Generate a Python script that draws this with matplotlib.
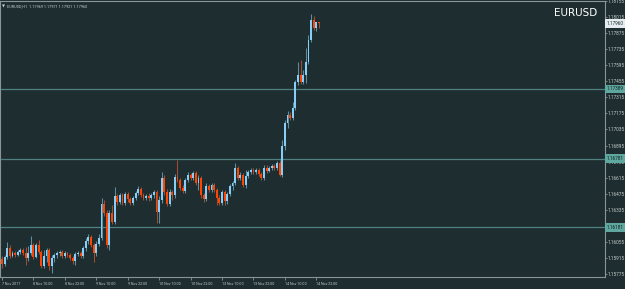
import matplotlib
matplotlib.use("Agg")
import matplotlib.pyplot as plt

# EURUSD H1 candles, 7 Nov 22:00 -> 14 Nov 23:00
opens = [1.15906, 1.15862, 1.15923, 1.16001, 1.15932, 1.15958, 1.15940, 1.15967, 1.15984, 1.15958,
         1.15914, 1.15958, 1.16027, 1.15923, 1.16027, 1.15967, 1.15845, 1.15932, 1.15984, 1.15845,
         1.15914, 1.15940, 1.15958, 1.15967, 1.15932, 1.15958, 1.15940, 1.15914, 1.15888, 1.15949,
         1.15958, 1.15932, 1.16001, 1.16062, 1.16097, 1.16027, 1.15958, 1.16036, 1.16088, 1.16385,
         1.16307, 1.16027, 1.16307, 1.16229, 1.16455, 1.16403, 1.16464, 1.16394, 1.16472, 1.16429,
         1.16394, 1.16437, 1.16481, 1.16516, 1.16464, 1.16437, 1.16455, 1.16437, 1.16464, 1.16490,
         1.16316, 1.16420, 1.16612, 1.16490, 1.16385, 1.16490, 1.16464, 1.16620, 1.16594, 1.16524,
         1.16498, 1.16594, 1.16638, 1.16612, 1.16656, 1.16568, 1.16612, 1.16464, 1.16429, 1.16542,
         1.16507, 1.16551, 1.16507, 1.16437, 1.16394, 1.16490, 1.16411, 1.16472, 1.16542, 1.16568,
         1.16699, 1.16612, 1.16638, 1.16551, 1.16629, 1.16664, 1.16682, 1.16664, 1.16682, 1.16647,
         1.16612, 1.16699, 1.16673, 1.16699, 1.16717, 1.16699, 1.16743, 1.16638, 1.16891, 1.17092,
         1.17162, 1.17136, 1.17222, 1.17449, 1.17510, 1.17449, 1.17510, 1.17623, 1.17815, 1.17990,
         1.17920, 1.17969]
highs = [1.15932, 1.15940, 1.16054, 1.16027, 1.15976, 1.15976, 1.15984, 1.16001, 1.16001, 1.16010,
         1.16019, 1.16106, 1.16045, 1.16045, 1.16071, 1.15984, 1.15984, 1.16001, 1.16001, 1.15940,
         1.15958, 1.15976, 1.15984, 1.15984, 1.15976, 1.15967, 1.15958, 1.15932, 1.15967, 1.15976,
         1.15976, 1.16019, 1.16088, 1.16123, 1.16114, 1.16045, 1.16062, 1.16123, 1.16437, 1.16420,
         1.16333, 1.16333, 1.16376, 1.16533, 1.16472, 1.16481, 1.16481, 1.16490, 1.16490, 1.16446,
         1.16455, 1.16498, 1.16542, 1.16533, 1.16481, 1.16472, 1.16481, 1.16481, 1.16507, 1.16507,
         1.16455, 1.16664, 1.16638, 1.16516, 1.16516, 1.16507, 1.16647, 1.16769, 1.16612, 1.16551,
         1.16612, 1.16664, 1.16656, 1.16673, 1.16673, 1.16638, 1.16629, 1.16481, 1.16568, 1.16559,
         1.16568, 1.16568, 1.16524, 1.16464, 1.16507, 1.16507, 1.16490, 1.16559, 1.16585, 1.16743,
         1.16717, 1.16664, 1.16656, 1.16682, 1.16682, 1.16699, 1.16699, 1.16699, 1.16699, 1.16664,
         1.16725, 1.16725, 1.16717, 1.16734, 1.16734, 1.16760, 1.16769, 1.16943, 1.17118, 1.17196,
         1.17188, 1.17275, 1.17466, 1.17623, 1.17641, 1.17554, 1.17745, 1.17859, 1.18042, 1.18024,
         1.17972, 1.17971]
lows = [1.15827, 1.15845, 1.15906, 1.15914, 1.15923, 1.15923, 1.15932, 1.15949, 1.15940, 1.15853,
        1.15888, 1.15940, 1.15906, 1.15914, 1.15949, 1.15827, 1.15827, 1.15880, 1.15810, 1.15784,
        1.15880, 1.15914, 1.15932, 1.15914, 1.15914, 1.15923, 1.15897, 1.15862, 1.15853, 1.15932,
        1.15914, 1.15914, 1.15976, 1.16036, 1.16010, 1.15880, 1.15932, 1.16019, 1.16071, 1.16281,
        1.16001, 1.15984, 1.16211, 1.16211, 1.16376, 1.16385, 1.16376, 1.16376, 1.16403, 1.16376,
        1.16376, 1.16420, 1.16464, 1.16446, 1.16420, 1.16420, 1.16411, 1.16420, 1.16437, 1.16220,
        1.16220, 1.16394, 1.16464, 1.16368, 1.16368, 1.16420, 1.16437, 1.16577, 1.16507, 1.16481,
        1.16481, 1.16577, 1.16594, 1.16594, 1.16551, 1.16507, 1.16437, 1.16403, 1.16411, 1.16490,
        1.16490, 1.16490, 1.16376, 1.16376, 1.16376, 1.16376, 1.16385, 1.16455, 1.16507, 1.16551,
        1.16594, 1.16594, 1.16533, 1.16524, 1.16612, 1.16647, 1.16647, 1.16647, 1.16629, 1.16594,
        1.16594, 1.16656, 1.16664, 1.16682, 1.16682, 1.16682, 1.16629, 1.16620, 1.16856, 1.17048,
        1.17118, 1.17118, 1.17205, 1.17423, 1.17432, 1.17432, 1.17440, 1.17606, 1.17798, 1.17902,
        1.17894, 1.17921]
closes = [1.15862, 1.15923, 1.16001, 1.15932, 1.15958, 1.15940, 1.15967, 1.15984, 1.15958, 1.15914,
          1.15958, 1.16027, 1.15923, 1.16027, 1.15967, 1.15845, 1.15932, 1.15984, 1.15845, 1.15914,
          1.15940, 1.15958, 1.15967, 1.15932, 1.15958, 1.15940, 1.15914, 1.15888, 1.15949, 1.15958,
          1.15932, 1.16001, 1.16062, 1.16097, 1.16027, 1.15958, 1.16036, 1.16088, 1.16385, 1.16307,
          1.16027, 1.16307, 1.16229, 1.16455, 1.16403, 1.16464, 1.16394, 1.16472, 1.16429, 1.16394,
          1.16437, 1.16481, 1.16516, 1.16464, 1.16437, 1.16455, 1.16437, 1.16464, 1.16490, 1.16316,
          1.16420, 1.16612, 1.16490, 1.16385, 1.16490, 1.16464, 1.16620, 1.16594, 1.16524, 1.16498,
          1.16594, 1.16638, 1.16612, 1.16656, 1.16568, 1.16612, 1.16464, 1.16429, 1.16542, 1.16507,
          1.16551, 1.16507, 1.16437, 1.16394, 1.16490, 1.16411, 1.16472, 1.16542, 1.16568, 1.16699,
          1.16612, 1.16638, 1.16551, 1.16629, 1.16664, 1.16682, 1.16664, 1.16682, 1.16647, 1.16612,
          1.16699, 1.16673, 1.16699, 1.16717, 1.16699, 1.16743, 1.16638, 1.16891, 1.17092, 1.17162,
          1.17136, 1.17222, 1.17449, 1.17510, 1.17449, 1.17510, 1.17623, 1.17815, 1.17990, 1.17920,
          1.17969, 1.17960]

price_ticks = [1.15775, 1.15915, 1.16055, 1.16195, 1.16335, 1.16475, 1.16615, 1.16755, 1.16895,
               1.17035, 1.17175, 1.17315, 1.17455, 1.17595, 1.17735, 1.17875, 1.18015, 1.18155]
level_lines = [1.17389, 1.16781, 1.16181]
time_ticks = [0, 12, 24, 36, 48, 60, 72, 84, 96, 108, 120]
time_labels = ["7 Nov 2017", "8 Nov 10:00", "8 Nov 22:00", "9 Nov 10:00", "9 Nov 22:00",
               "10 Nov 10:00", "10 Nov 22:00", "13 Nov 10:00", "13 Nov 22:00",
               "14 Nov 10:00", "14 Nov 22:00"]
last_price = 1.17960

bg = "#1e2e30"
axis_col = "#8a9696"
text_col = "#c4cccc"
bull_col = "#87cefa"
bear_col = "#ff4500"
small = "Roboto"

fig = plt.figure(figsize=(6.25, 2.89), dpi=100, facecolor=bg)
ax = fig.add_axes([0, 12 / 289, 605 / 625, 276 / 289])
ax.set_facecolor(bg)

# levels
for lv in level_lines:
    ax.axhline(lv, color="#4f8082", lw=0.9, zorder=1)

# candles
for i in range(len(closes)):
    o, h, l, c = opens[i], highs[i], lows[i], closes[i]
    up = c >= o
    ax.vlines(i, l, h, color="#5a8ea0" if up else "#a84a30", lw=0.75, zorder=2)
    bot = min(o, c)
    hgt = max(abs(c - o), 0.00003)
    ax.bar(i, hgt, bottom=bot, width=0.72, color=bull_col if up else bear_col,
           linewidth=0, zorder=3)

ax.set_xlim(-0.76, 230.2)
ax.set_ylim(1.15749, 1.18155)

for s in ax.spines.values():
    s.set_color(axis_col)
    s.set_linewidth(0.8)

ax.yaxis.tick_right()
ax.set_yticks(price_ticks)
ax.set_yticklabels(["%.5f" % p for p in price_ticks], family=small)
ax.tick_params(axis="y", colors=axis_col, labelcolor=text_col, labelsize=3.4,
               length=1.2, width=0.6, pad=1)

ax.set_xticks(time_ticks)
ax.set_xticklabels(time_labels, ha="left", family=small)
ax.tick_params(axis="x", colors=axis_col, labelcolor=text_col, labelsize=2.6,
               length=2, width=0.6, pad=1.5)

# highlighted price labels on the scale
for lv in level_lines:
    ax.text(1.003, lv, "%.5f" % lv, transform=ax.get_yaxis_transform(), fontsize=3.4,
            family=small, color="#10201f", va="center", ha="left", zorder=5,
            bbox=dict(boxstyle="square,pad=0.35", fc="#5fa8a0", ec="none"))
ax.text(1.003, last_price, "%.5f" % last_price, transform=ax.get_yaxis_transform(),
        fontsize=3.4, family=small, color="#1e2e30", va="center", ha="left", zorder=5,
        bbox=dict(boxstyle="square,pad=0.35", fc="#e4ecf0", ec="none"))

ax.text(0.004, 0.988, "\u25bc", transform=ax.transAxes, fontsize=2.8,
        color=text_col, va="top", ha="left")
ax.text(0.012, 0.988, "EURUSD,H1  1.17969 1.17971 1.17921 1.17960",
        transform=ax.transAxes, fontsize=2.8, family=small, color=text_col,
        va="top", ha="left")
ax.text(0.988, 0.955, "EURUSD", transform=ax.transAxes, fontsize=7.5,
        color="white", va="center", ha="right")

fig.savefig("out.png", dpi=100, facecolor=bg)
